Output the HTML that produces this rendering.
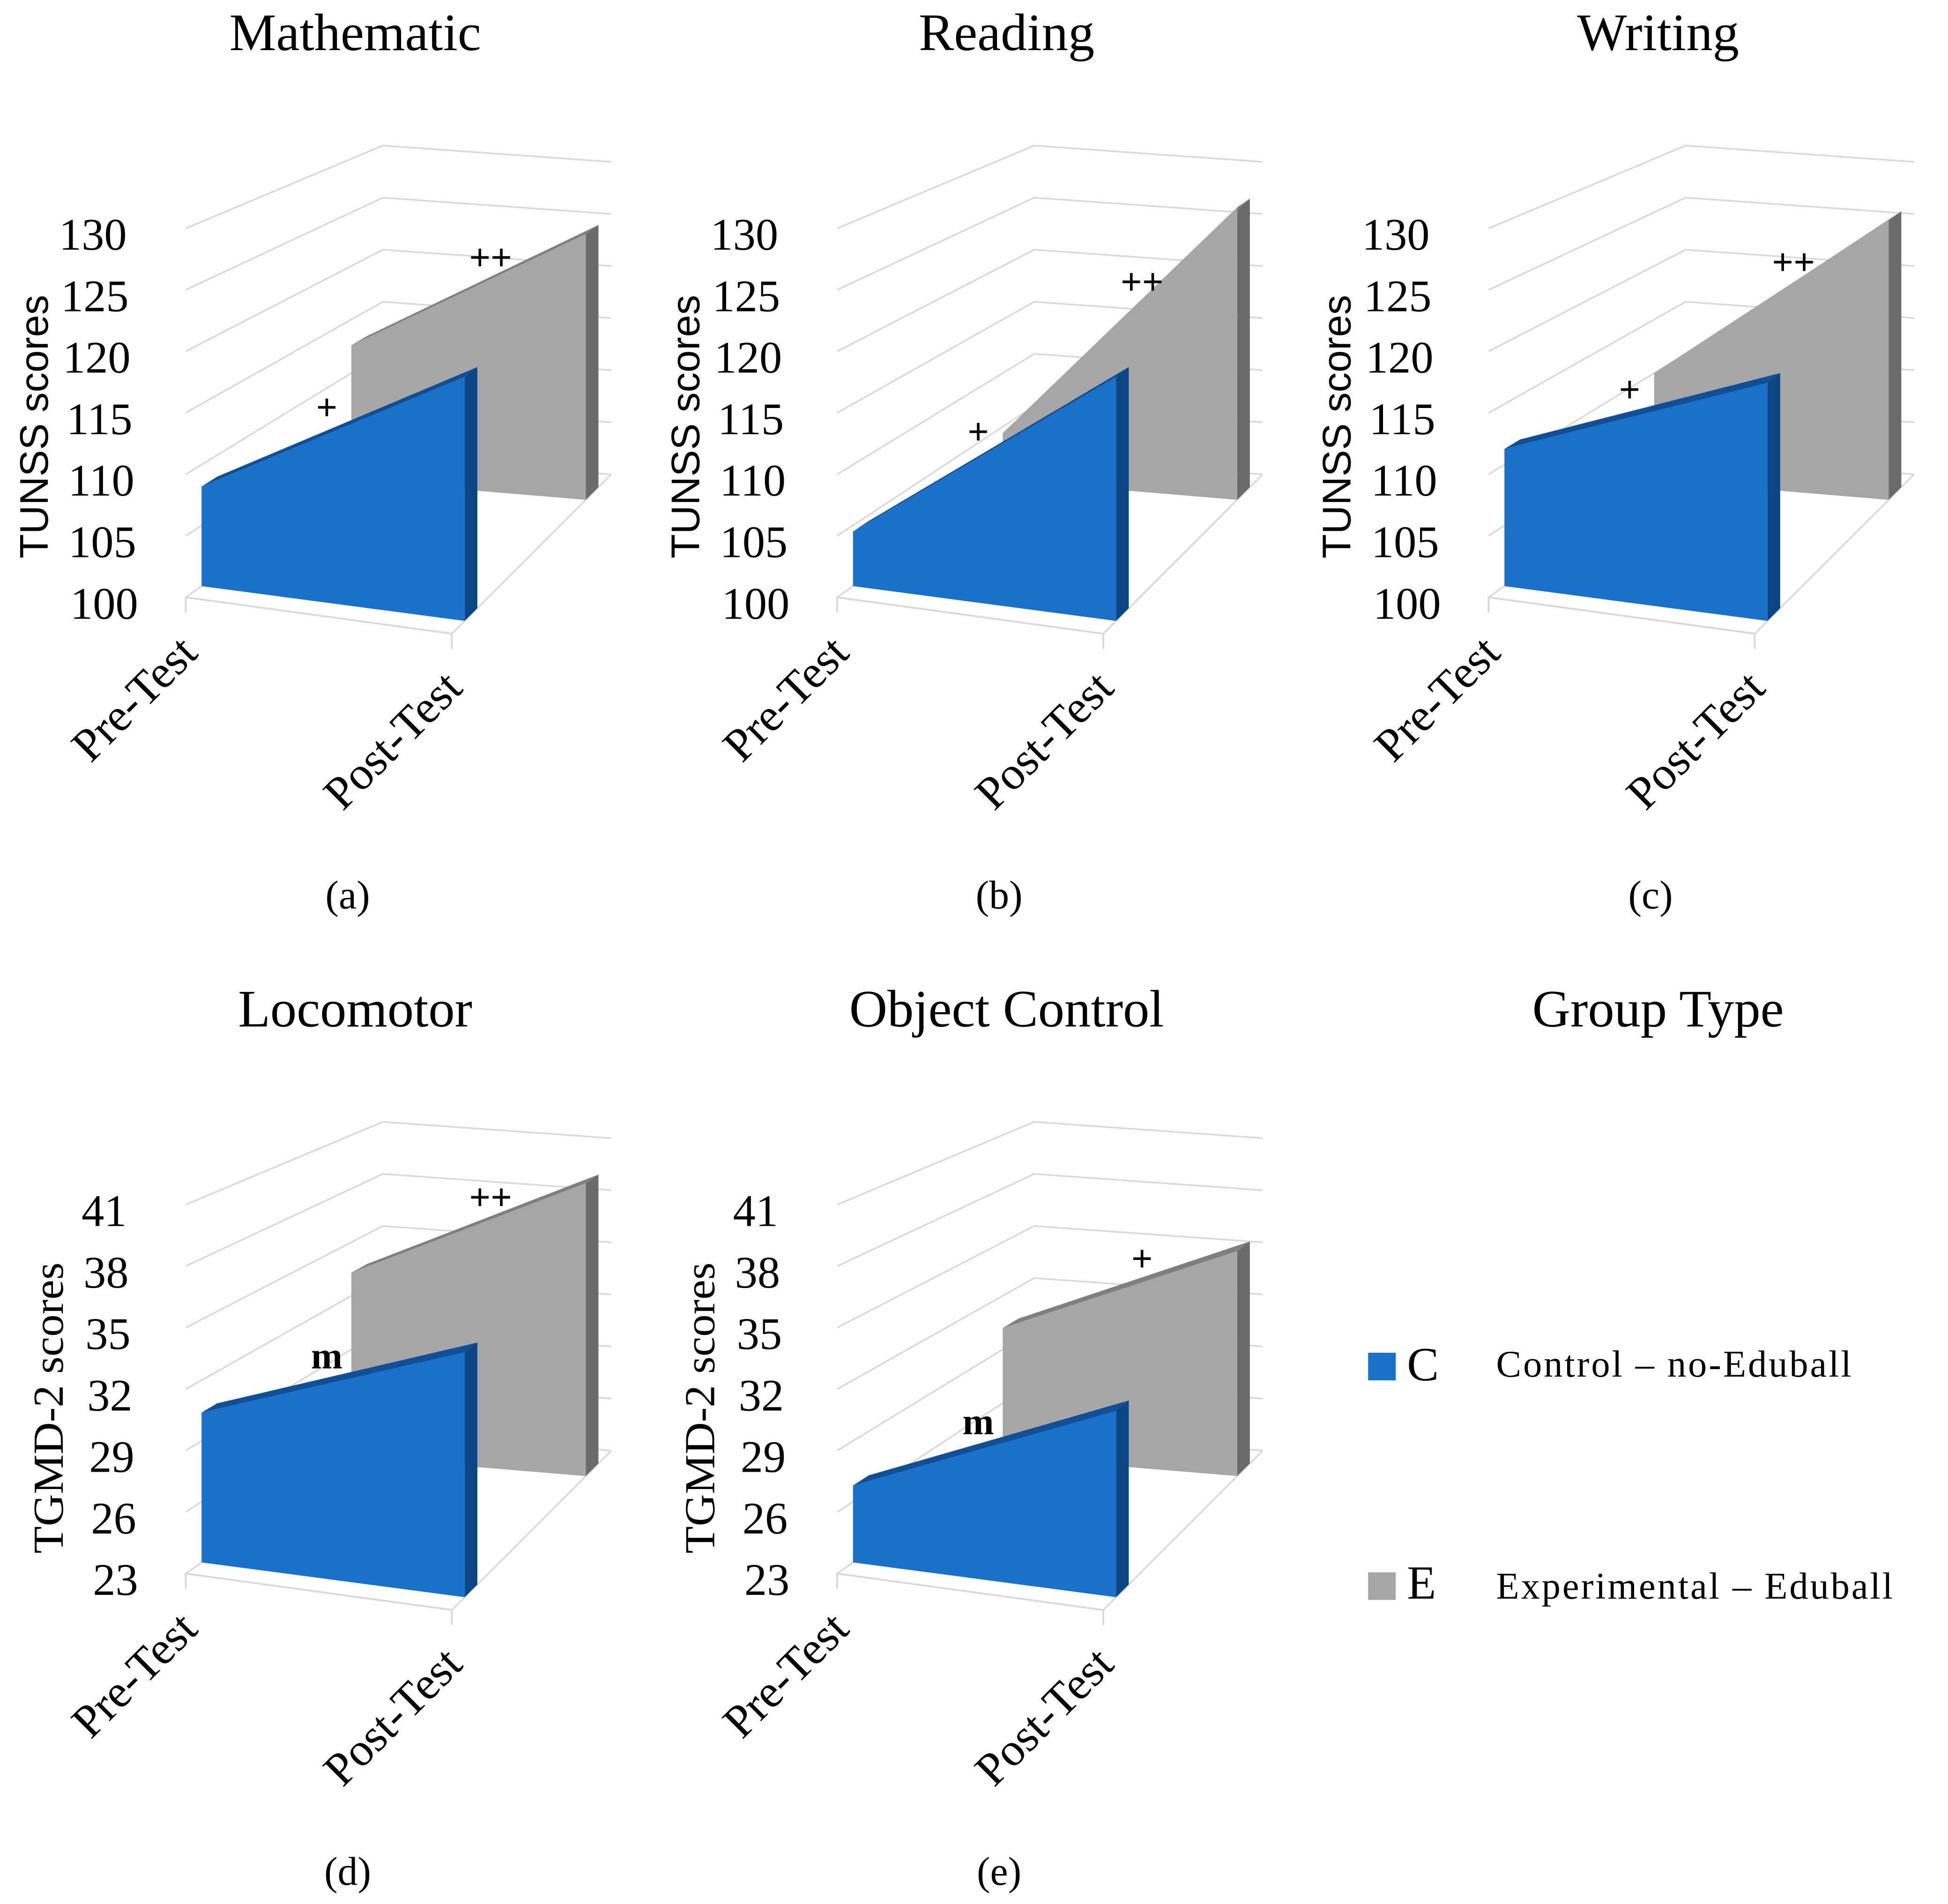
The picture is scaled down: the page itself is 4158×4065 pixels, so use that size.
<!DOCTYPE html>
<html><head><meta charset="utf-8"><style>
html,body{margin:0;padding:0;background:#fff;}
svg{display:block;}
.serif{font-family:"Liberation Serif",serif;}
.sans{font-family:"Liberation Sans",sans-serif;}
</style></head><body>
<svg id="fig" width="4158" height="4065" viewBox="0 0 1552 1517.3" preserveAspectRatio="none" xmlns="http://www.w3.org/2000/svg">
<rect width="1552" height="1518" fill="#fff"/>
<text x="1321" y="818" text-anchor="middle" class="serif" font-size="42">Group Type</text>
<g>
<rect x="1090" y="1078" width="22" height="22" fill="#1a71c9"/>
<text x="1121" y="1100" class="serif" font-size="38">C</text>
<text x="1192" y="1097" class="serif" font-size="30" textLength="283">Control – no-Eduball</text>
</g>
<g>
<rect x="1090" y="1253" width="22" height="22" fill="#a6a6a6"/>
<text x="1121" y="1274" class="serif" font-size="38">E</text>
<text x="1192" y="1274" class="serif" font-size="30" textLength="316">Experimental – Eduball</text>
</g>
</svg>
<script>
const panelTitles = ["Mathematic","Reading","Writing","Locomotor","Object Control"];
const panelCaptions = ["(a)","(b)","(c)","(d)","(e)"];
const categories = ["Pre-Test","Post-Test"];
const controlValues = [[108.2,120.1],[104.5,120.1],[111.3,119.6],[30.4,35.1],[26.8,32.2]];
const experimentalValues = [[112.6,124.8],[104.4,127.3],[110.0,126.1],[33.3,39.4],[30.2,35.6]];
const controlMarks = ["+","+","+","m","m"];
const experimentalMarks = ["++","++","++","++","+"];
const tunssTicks = ["100","105","110","115","120","125","130"];
const tgmdTicks = ["23","26","29","32","35","38","41"];

const NS = "http://www.w3.org/2000/svg";
const svg = document.getElementById('fig');
const FL=[148,476],FR=[360,505],BL=[305,365],BR=[487,378];
function lerp(a,b,t){return a+(b-a)*t;}
function mk(tag,attrs,parent){const e=document.createElementNS(NS,tag);for(const k in attrs)e.setAttribute(k,attrs[k]);(parent||svg).appendChild(e);return e;}

panelTitles.forEach((title,p)=>{
  const ox=(p%3)*519, oy=Math.floor(p/3)*778;
  const isT = p<3;
  const ticks = isT?tunssTicks:tgmdTicks;
  const tmin=+ticks[0], tmax=+ticks[ticks.length-1];
  const norm = v => (v-tmin)/(tmax-tmin)*30;
  function pt(u,d,n){
    const lx=lerp(FL[0],BL[0],d), ly=lerp(FL[1],BL[1],d);
    const rx=lerp(FR[0],BR[0],d), ry=lerp(FR[1],BR[1],d);
    const k=9.8-1.5*d;
    return [ox+lerp(lx,rx,u), oy+lerp(ly,ry,u)-n*k];
  }
  const poly=a=>a.map(q=>q[0].toFixed(1)+','+q[1].toFixed(1)).join(' ');
  const g=mk('g',{});
  
  
  const t=mk('text',{x:ox+283,y:oy+40,'text-anchor':'middle','class':'serif','font-size':42},g);
  t.textContent=title;
  
  
  ticks.forEach((lab,i)=>{
    const n=norm(+lab);
    const a=pt(0,0,n),b=pt(0,1,n),c=pt(1,1,n);
    const gl=mk('polyline',{points:poly([a,b,c]),fill:'none',stroke:'#d9d9d9','stroke-width':1.3},g);
    
    
    const tl=mk('text',{x:ox+110-n*0.3,y:oy+481-n*9.8+12,'text-anchor':'end','class':'serif','font-size':36},g);
    tl.textContent=lab;
    
    
  });
  const f1=mk('polyline',{points:poly([[pt(0,0,0)[0],pt(0,0,0)[1]+12],pt(0,0,0),pt(1,0,0),[pt(1,0,0)[0],pt(1,0,0)[1]+12]]),fill:'none',stroke:'#d9d9d9','stroke-width':1.5},g);
  
  
  const f2=mk('polyline',{points:poly([pt(1,0,0),pt(1,1,0)]),fill:'none',stroke:'#d9d9d9','stroke-width':1.3},g);
  
  
  const yt=mk('text',{transform:`translate(${ox+(isT?38:50)},${oy+(isT?340:1122-778)}) rotate(-90)`,'text-anchor':'middle','class':isT?'sans':'serif','font-size':isT?32:34,'textLength':isT?210:232,'lengthAdjust':'spacingAndGlyphs'},g);
  yt.textContent=isT?'TUNSS scores':'TGMD-2 scores';
  
  
  function prism(vals,d0,d1,cols,name){
    const a=norm(vals[0]),b=norm(vals[1]);
    const sg=mk('g',{},g);
    
    
    mk('polygon',{points:poly([pt(1,d0,0),pt(1,d0,b),pt(1,d1,b),pt(1,d1,0)]),fill:cols[2]},sg);
    mk('polygon',{points:poly([pt(0,d0,a),pt(1,d0,b),pt(1,d1,b),pt(0,d1,a)]),fill:cols[1]},sg);
    mk('polygon',{points:poly([pt(0,d0,0),pt(0,d0,a),pt(1,d0,b),pt(1,d0,0)]),fill:cols[0]},sg);
  }
  prism(experimentalValues[p],0.84,0.92,['#a6a6a6','#7f7f7f','#6b6b6b'],'series-experimental');
  prism(controlValues[p],0.08,0.16,['#1a71c9','#0e4f96','#0c4585'],'series-control');
  const ea=norm(experimentalValues[p][1]), ca=norm(controlValues[p][1]);
  let q=pt(0.55,0.92,lerp(norm(experimentalValues[p][0]),ea,0.55));
  const m1=mk('text',{x:q[0]-3,y:q[1]-4,'text-anchor':'middle','class':'serif','font-size':30,'font-weight':'bold'},g);
  m1.textContent=experimentalMarks[p];
  
  
  const cv=norm(controlValues[p][0]); const mv=lerp(cv,ca,0.45);
  q=pt(0.45,0.16,mv);
  const m2=mk('text',{x:q[0]-6,y:q[1]-6,'text-anchor':'middle','class':'serif','font-size':30,'font-weight':'bold'},g);
  m2.textContent=controlMarks[p];
  
  
  const c1=mk('text',{transform:`translate(${ox+159},${oy+522}) rotate(-45)`,'text-anchor':'end','class':'serif','font-size':37},g);
  c1.textContent=categories[0];
  
  
  const c2=mk('text',{transform:`translate(${ox+370},${oy+550}) rotate(-45)`,'text-anchor':'end','class':'serif','font-size':37},g);
  c2.textContent=categories[1];
  
  
  const cap=mk('text',{x:ox+277,y:oy+724,'text-anchor':'middle','class':'serif','font-size':32},g);
  cap.textContent=panelCaptions[p];
  
  
});
</script>
</body></html>
